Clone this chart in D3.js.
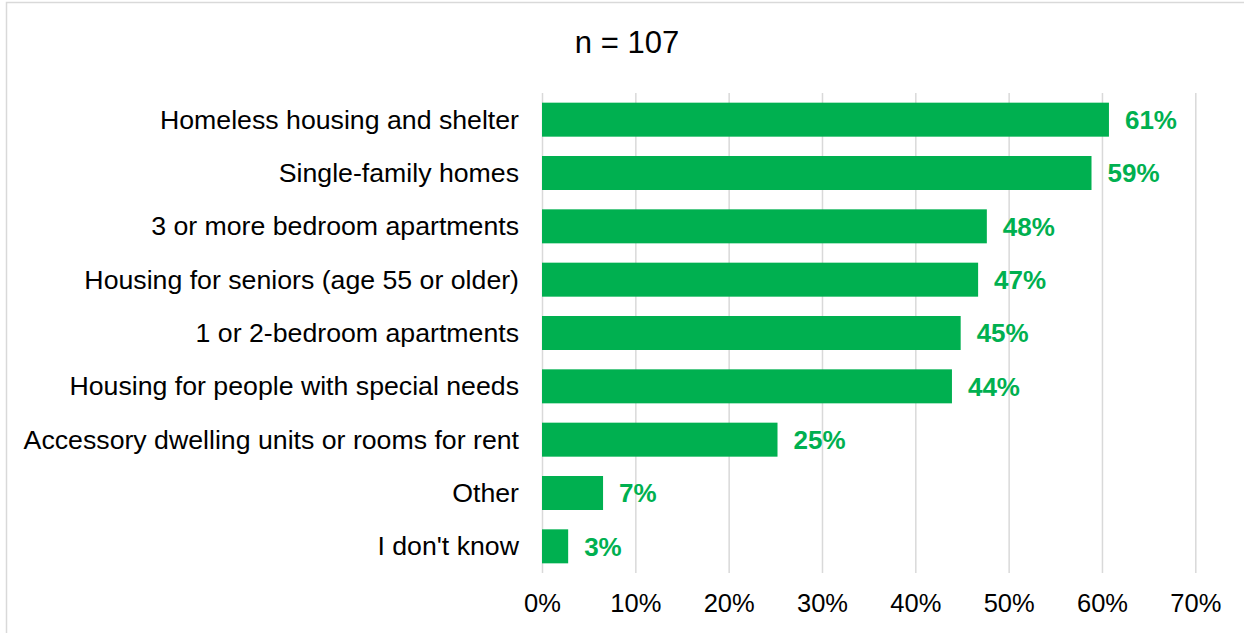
<!DOCTYPE html>
<html>
<head>
<meta charset="utf-8">
<script src="https://cdn.jsdelivr.net/npm/d3@7"></script>
<style>
  html, body { margin: 0; padding: 0; background: #fff; }
  svg { display: block; font-family: "Liberation Sans", Arial, sans-serif; }
</style>
</head>
<body>
<svg width="1244" height="633"></svg>
<script>
// Chart data (share of n = 107 respondents)
const categories = [
  "Homeless housing and shelter",
  "Single-family homes",
  "3 or more bedroom apartments",
  "Housing for seniors (age 55 or older)",
  "1 or 2-bedroom apartments",
  "Housing for people with special needs",
  "Accessory dwelling units or rooms for rent",
  "Other",
  "I don't know"
];
const counts = [65, 63, 51, 50, 48, 47, 27, 7, 3];
const total = 107;
const xTicks = [0, 0.1, 0.2, 0.3, 0.4, 0.5, 0.6, 0.7];
const subtitle = "n = " + total;

// Layout
const GREEN = "#00b050";
const GRID = "#d9d9d9";
const svg = d3.select("svg"),
    width = +svg.attr("width"),
    height = +svg.attr("height");
const plot = { left: 542, right: 1195.3, top: 93, bottom: 573 };

const data = categories.map((c, i) => ({ name: c, value: counts[i] / total }));

// Outer frame (partly off-canvas, as in the source)
svg.append("rect")
    .attr("x", 6.5).attr("y", 2.5)
    .attr("width", width + 20).attr("height", height + 20)
    .attr("fill", "none")
    .attr("stroke", GRID)
    .attr("stroke-width", 1.5);

// Scales
const x = d3.scaleLinear().domain([0, 0.7]).range([plot.left, plot.right]);
const y = d3.scaleBand().domain(categories)
    .range([plot.top, plot.bottom])
    .paddingInner(0.3625)
    .paddingOuter(0.18125);

// X axis with gridlines
const xAxis = svg.append("g")
    .attr("transform", "translate(0," + plot.bottom + ")")
    .call(d3.axisBottom(x)
        .tickValues(xTicks)
        .tickFormat(d3.format(".0%"))
        .tickSize(-(plot.bottom - plot.top))
        .tickPadding(21));
xAxis.select(".domain").remove();
xAxis.selectAll(".tick line").attr("stroke", GRID).attr("stroke-width", 1.5);
xAxis.selectAll(".tick text")
    .attr("fill", "#000")
    .style("font-size", "25.5px");

// Category labels
const yAxis = svg.append("g")
    .attr("transform", "translate(" + plot.left + ",0)")
    .call(d3.axisLeft(y).tickSize(0).tickPadding(23));
yAxis.select(".domain").remove();
yAxis.selectAll(".tick text")
    .attr("fill", "#000")
    .attr("dy", "0.34em")
    .style("font-size", "26.7px");

// Bars
svg.append("g")
    .selectAll("rect")
    .data(data)
    .enter().append("rect")
    .attr("x", x(0))
    .attr("y", d => y(d.name))
    .attr("width", d => x(d.value) - x(0))
    .attr("height", y.bandwidth())
    .attr("fill", GREEN);

// Value labels
svg.append("g")
    .selectAll("text")
    .data(data)
    .enter().append("text")
    .attr("x", d => x(d.value) + 16)
    .attr("y", d => y(d.name) + y.bandwidth() / 2)
    .attr("dy", "0.36em")
    .attr("fill", GREEN)
    .style("font-size", "26px")
    .style("font-weight", "bold")
    .text(d => Math.round(d.value * 100) + "%");

// Sample size
svg.append("text")
    .attr("x", 627)
    .attr("y", 53)
    .attr("text-anchor", "middle")
    .attr("fill", "#000")
    .style("font-size", "31px")
    .text(subtitle);
</script>
</body>
</html>
